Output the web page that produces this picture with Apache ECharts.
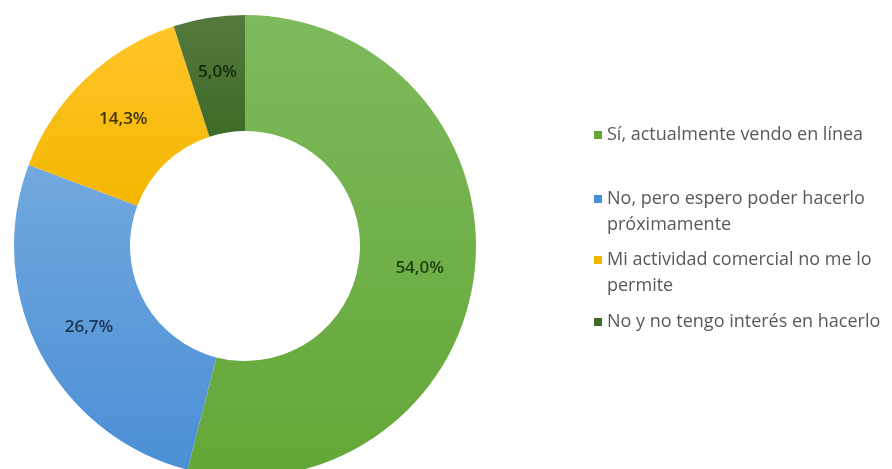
<!DOCTYPE html>
<html>
<head>
<meta charset="utf-8">
<script src="https://cdn.jsdelivr.net/npm/echarts@6/dist/echarts.min.js"></script>
<style>html,body{margin:0;padding:0;background:#fff;}#c{width:892px;height:469px;}</style>
</head>
<body>
<div id="c"></div>
<script>
const categories = [
  'Sí, actualmente vendo en línea',
  'No, pero espero poder hacerlo próximamente',
  'Mi actividad comercial no me lo permite',
  'No y no tengo interés en hacerlo'
];
const legendLines = [
  ['Sí, actualmente vendo en línea'],
  ['No, pero espero poder hacerlo', 'próximamente'],
  ['Mi actividad comercial no me lo', 'permite'],
  ['No y no tengo interés en hacerlo']
];
const values = [54.0, 26.7, 14.3, 5.0];

const gradTop = ['#7dba5c', '#72a8de', '#ffc52a', '#557a3e'];
const gradBottom = ['#64a737', '#4a8fd5', '#f3b700', '#3e6a27'];
const labelColors = ['#1f3f0e', '#1b3452', '#3f3300', '#16290c'];

const chart = echarts.init(document.getElementById('c'), null, {renderer: 'canvas'});

const data = categories.map((name, i) => ({
  name: name,
  value: values[i],
  itemStyle: {
    color: new echarts.graphic.LinearGradient(0, 0, 0, 1, [
      {offset: 0, color: gradTop[i]},
      {offset: 1, color: gradBottom[i]}
    ])
  },
  label: {color: labelColors[i]}
}));

const LH = 26;
const legendCenters = [135, 199, 260, 322];
const legends = categories.map((name, i) => {
  const lines = legendLines[i];
  const multi = lines.length > 1;
  const text = multi
    ? '{s| }\n' + lines.map(l => '{t|' + l + '}').join('\n')
    : '{t|' + lines[0] + '}';
  return {
    data: [{name: name, itemStyle: {color: gradBottom[i]}}],
    orient: 'vertical',
    left: 594,
    top: legendCenters[i] - (multi ? LH * 1.5 : LH / 2),
    padding: 0,
    itemWidth: 8,
    itemHeight: 8,
    icon: 'rect',
    selectedMode: false,
    formatter: () => text,
    textStyle: {
      fontFamily: 'Open Sans',
      fontSize: 18,
      color: '#595959',
      lineHeight: LH,
      rich: {
        t: {fontFamily: 'Open Sans', fontSize: 18, color: '#595959', lineHeight: LH},
        s: {fontFamily: 'Open Sans', fontSize: 18, lineHeight: LH}
      }
    }
  };
});

chart.setOption({
  animation: false,
  backgroundColor: '#ffffff',
  legend: legends,
  series: [{
    type: 'pie',
    center: [245, 246],
    radius: [115, 231],
    startAngle: 90,
    clockwise: true,
    avoidLabelOverlap: false,
    itemStyle: {borderWidth: 0},
    label: {
      show: true,
      position: 'inside',
      fontFamily: 'Open Sans',
      fontSize: 17,
      fontWeight: 600,
      formatter: p => p.value.toFixed(1).replace('.', ',') + '%'
    },
    labelLine: {show: false},
    emphasis: {disabled: true},
    data: data
  }]
});
</script>
</body>
</html>
